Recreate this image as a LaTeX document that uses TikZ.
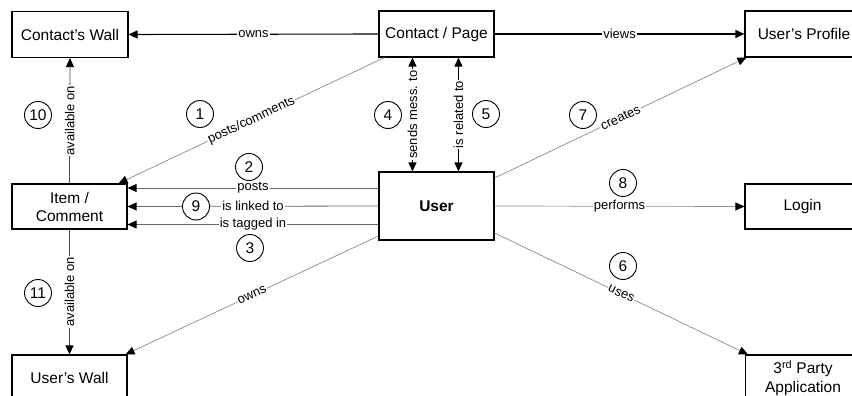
\documentclass[tikz,border=0pt]{standalone}
\usepackage{fontspec}
\setmainfont{Liberation Sans}
\usetikzlibrary{arrows.meta,calc}
\tikzset{
  box/.style={draw=black, line width=1.1pt, minimum width=115pt, minimum height=46pt, inner sep=2pt, font=\fontsize{15.5}{18}\selectfont, align=center},
  num/.style={draw=black, fill=white, circle, line width=0.9pt, minimum size=27pt, inner sep=0pt, font=\fontsize{15.5}{18}\selectfont},
  lab/.style={fill=white, inner sep=1pt, font=\fontsize{13}{15}\selectfont},
  tip/.style={-{Triangle[length=9pt,width=8pt,color=black]}},
  dtip/.style={{Triangle[length=9pt,width=8pt,color=black]}-{Triangle[length=9pt,width=8pt,color=black]}},
  blk/.style={tip, draw=black, line width=1.1pt},
  gry/.style={tip, draw=black!60, line width=0.8pt},
  lgry/.style={tip, draw=black!45, line width=0.7pt},
}
\begin{document}
\begin{tikzpicture}[x=1pt,y=-1pt]
\useasboundingbox (0,0) rectangle (852,396);
\clip (0,0) rectangle (852,396);
% boxes
\node[box, minimum width=116pt] (cw) at (70,34.5) {Contact’s Wall};
\node[box] (cp) at (436.5,34) {Contact / Page};
\node[box, minimum width=118pt] (up) at (804,34) {User’s Profile};
\node[box, minimum height=45pt] (ic) at (69.5,206.5) {Item /\\Comment};
\node[box, minimum height=68pt, font=\fontsize{15.5}{18}\selectfont\bfseries] (us) at (436.5,206) {User};
\node[box, minimum height=45pt] (lg) at (802.5,206.5) {Login};
\node[box] (uw) at (69.5,378) {User's Wall};
\node[box, inner sep=1pt, font=\fontsize{15.5}{19}\selectfont] (tp) at (803,378) {3\textsuperscript{rd} Party\\Application};
% connectors
\draw[blk] (cp.west) -- node[lab] {owns} (cw.east);
\draw[blk] (cp.east) -- node[lab] {views} (up.west);
\draw[lgry] ($(cp.south west)+(6,0)$) -- node[lab, sloped] {posts/comments} ($(ic.north east)+(-9,0)$);
\draw[blk, dtip] ($(us.north west)+(34,0)$) -- node[lab, rotate=90] {sends mess. to} ($(cp.south west)+(34,0)$);
\draw[blk, dtip] ($(us.north west)+(80,0)$) -- node[lab, rotate=90] {is related to} ($(cp.south west)+(80,0)$);
\coordinate (p2) at ($(us.west)+(0,-18)$);
\coordinate (p3) at ($(us.west)+(0,18.5)$);
\draw[gry] (p2) -- node[lab] {posts} (ic.east |- p2);
\draw[gry] (us.west) -- node[lab] {is linked to} (ic.east);
\draw[gry] (p3) -- node[lab] {is tagged in} (ic.east |- p3);
\draw[lgry] ($(us.east)+(0,-28)$) -- node[lab, sloped] {creates} ($(up.south west)+(2,0)$);
\draw[lgry] (us.east) -- node[lab] {performs} (lg.west);
\draw[lgry] ($(us.east)+(0,27)$) -- node[lab, sloped] {uses} ($(tp.north west)+(3,0)$);
\draw[lgry] ($(us.west)+(0,30)$) -- node[lab, sloped] {owns} ($(uw.north east)+(-2,0)$);
\draw[gry, draw=black!70] (ic.north) -- node[lab, rotate=90] {available on} (cw.south);
\draw[gry, draw=black!70] (ic.south) -- node[lab, rotate=90] {available on} (uw.north);
% circled numbers
\node[num] (n1) at (200,114) {1};
\node[num] (n2) at (249,167) {2};
\node[num] (n3) at (250,248) {3};
\node[num] (n4) at (388,115) {4};
\node[num] (n5) at (486,114) {5};
\node[num] (n6) at (623,266) {6};
\node[num] (n7) at (583,115) {7};
\node[num] (n8) at (623,183) {8};
\node[num] (n9) at (196,206.5) {9};
\node[num] (n10) at (38,115) {10};
\node[num] (n11) at (38,293) {11};
\end{tikzpicture}
\end{document}
